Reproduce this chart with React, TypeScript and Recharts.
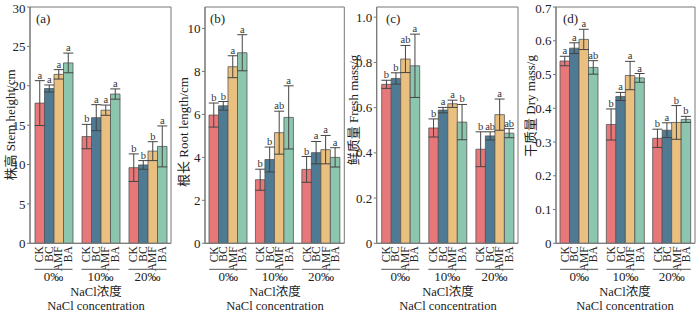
import React from "react";
import { BarChart, Bar, XAxis, YAxis, ErrorBar, LabelList, ReferenceArea } from "recharts";

const groups = ["0‰", "10‰", "20‰"];
const treatments = ["CK", "BC", "AMF", "BA"];
const colors = ["#E8777A", "#4E7A93", "#E9C07F", "#8DC6AE"];

// rows: CK, BC, AMF, BA ; columns: 0‰, 10‰, 20‰
const stemMean = [[17.8, 13.55, 9.6], [19.65, 15.95, 9.95], [21.45, 16.9, 11.7], [22.9, 18.95, 12.3]];
const stemErr = [[2.85, 1.55, 1.75], [0.45, 1.65, 0.55], [0.6, 0.65, 1.2], [1.25, 0.65, 2.6]];
const stemSig = [["a", "b", "b"], ["a", "a", "b"], ["a", "a", "b"], ["a", "a", "a"]];
const stemTicks = [0, 5, 10, 15, 20, 25, 30];

const rootMean = [[5.97, 2.96, 3.44], [6.4, 3.9, 4.22], [8.22, 5.15, 4.36], [8.87, 5.86, 4.0]];
const rootErr = [[0.56, 0.49, 0.6], [0.2, 0.58, 0.52], [0.51, 1.0, 0.66], [0.84, 1.47, 0.45]];
const rootSig = [["b", "b", "b"], ["b", "b", "a"], ["a", "ab", "a"], ["a", "a", "a"]];
const rootTicks = [0, 2, 4, 6, 8, 10];

const freshMean = [[0.703, 0.51, 0.416], [0.729, 0.589, 0.475], [0.815, 0.617, 0.569], [0.785, 0.536, 0.487]];
const freshErr = [[0.018, 0.04, 0.077], [0.025, 0.012, 0.018], [0.06, 0.016, 0.069], [0.14, 0.078, 0.02]];
const freshSig = [["b", "b", "b"], ["b", "a", "ab"], ["ab", "a", "a"], ["a", "b", "ab"]];
const freshTicks = [0, 0.2, 0.4, 0.6, 0.8, 1.0];

const dryMean = [[0.54, 0.352, 0.311], [0.578, 0.435, 0.335], [0.604, 0.497, 0.358], [0.521, 0.49, 0.367]];
const dryErr = [[0.014, 0.046, 0.027], [0.016, 0.012, 0.022], [0.03, 0.042, 0.05], [0.02, 0.013, 0.009]];
const drySig = [["a", "b", "b"], ["a", "a", "a"], ["a", "a", "b"], ["ab", "a", "b"]];
const dryTicks = [0, 0.1, 0.2, 0.3, 0.4, 0.5, 0.6, 0.7];

const FONT = "'Liberation Serif', 'DejaVu Serif', 'Noto Sans CJK SC', serif";
const BAR = 9.5;

const buildRows = (mean, err, sig) =>
  groups.map((g, gi) => {
    const row: any = { group: g };
    treatments.forEach((t, ti) => {
      row[t] = mean[ti][gi];
      row[t + "_err"] = err[ti][gi];
      row[t + "_sig"] = sig[ti][gi];
    });
    return row;
  });

const GroupTick = (props: any) => {
  const { x, y, payload } = props;
  return (
    <g>
      {treatments.map((t, i) => {
        const tx = x + (i - 1.5) * BAR;
        const ty = y + 3;
        return (
          <text
            key={t}
            x={tx}
            y={ty}
            transform={`rotate(-90, ${tx}, ${ty})`}
            textAnchor="end"
            dominantBaseline="central"
            fontSize={11.5}
            fontFamily={FONT}
            fill="#222"
          >
            {t}
          </text>
        );
      })}
      <line x1={x - 19} x2={x + 19} y1={y + 26} y2={y + 26} stroke="#555" strokeWidth={1} />
      <text x={x} y={y + 38} textAnchor="middle" fontSize={13} fontFamily={FONT} fill="#222">
        {payload.value}
      </text>
    </g>
  );
};

const sigLabel = (mean, err, ti) => (props: any) => {
  const { x, y, width, height, value, index } = props;
  const m = mean[ti][index];
  const top = y - (err[ti][index] * height) / m;
  return (
    <text x={x + width / 2} y={top - 2} textAnchor="middle" fontSize={10.5} fontFamily={FONT} fill="#333">
      {value}
    </text>
  );
};

const Panel = ({ p }) => {
  const rows = buildRows(p.mean, p.err, p.sig);
  const fmt = (v) => (v === 0 ? "0" : p.decimals ? v.toFixed(p.decimals) : String(v));
  return (
    <div style={{ position: "absolute", left: p.left, top: 0 }}>
      <BarChart
        width={p.width}
        height={311}
        data={rows}
        margin={{ top: 7, right: p.mr, left: 0, bottom: 0 }}
        barSize={BAR}
        barGap={0}
      >
        <XAxis
          dataKey="group"
          height={67.7}
          interval={0}
          tickLine={false}
          tickSize={0}
          tickMargin={0}
          axisLine={{ stroke: "#777" }}
          tick={<GroupTick />}
        />
        <YAxis
          width={p.yW}
          domain={p.domain}
          ticks={p.ticks}
          tickFormatter={fmt}
          allowDataOverflow
          tickSize={3}
          tickMargin={1.5}
          axisLine={{ stroke: "#777" }}
          tickLine={{ stroke: "#777" }}
          tick={{ fontSize: 13, fontFamily: FONT, fill: "#222" }}
        />
        {treatments.map((t, ti) => (
          <Bar
            key={t}
            dataKey={t}
            fill={colors[ti]}
            stroke="#555"
            strokeWidth={0.8}
            isAnimationActive={false}
          >
            <ErrorBar dataKey={t + "_err"} width={5} stroke="#444" strokeWidth={1} direction="y" />
            <LabelList dataKey={t + "_sig"} content={sigLabel(p.mean, p.err, ti)} />
          </Bar>
        ))}
        <ReferenceArea y1={p.domain[0]} y2={p.domain[1]} fill="none" stroke="#777" strokeWidth={1} ifOverflow="visible" />
        <text x={p.tagX} y={23} fontSize={13} fontFamily={FONT} fill="#222">
          {p.tag}
        </text>
        <text
          x={p.ylx}
          y={p.yly}
          transform={`rotate(-90, ${p.ylx}, ${p.yly})`}
          textAnchor="middle"
          dominantBaseline="central"
          fontSize={13}
          fontFamily={FONT}
          fill="#222"
        >
          {p.ylabel}
        </text>
        <text x={p.titleX} y={296} textAnchor="middle" fontSize={12.5} fontFamily={FONT} fill="#222">
          NaCl浓度
        </text>
        <text x={p.titleX} y={309.5} textAnchor="middle" fontSize={12.5} fontFamily={FONT} fill="#222">
          NaCl concentration
        </text>
      </BarChart>
    </div>
  );
};

const panels = [
  {
    left: 0, width: 175, yW: 30, mr: 4, domain: [0, 30], ticks: stemTicks, decimals: 0,
    tag: "(a)", tagX: 36, ylabel: "株高 Stem height/cm",
    ylx: 10, yly: 125, titleX: 96, mean: stemMean, err: stemErr, sig: stemSig,
  },
  {
    left: 175, width: 170, yW: 30, mr: 0.7, domain: [0, 11], ticks: rootTicks, decimals: 0,
    tag: "(b)", tagX: 35, ylabel: "根长 Root length/cm",
    ylx: 8, yly: 132, titleX: 100, mean: rootMean, err: rootErr, sig: rootSig,
  },
  {
    left: 345, width: 177, yW: 31.7, mr: 4, domain: [0, 1.045], ticks: freshTicks, decimals: 1,
    tag: "(c)", tagX: 41, ylabel: "鲜质量 Fresh mass/g",
    ylx: 8, yly: 110, titleX: 103, mean: freshMean, err: freshErr, sig: freshSig,
  },
  {
    left: 522, width: 178, yW: 34, mr: 5, domain: [0, 0.7], ticks: dryTicks, decimals: 1,
    tag: "(d)", tagX: 41, ylabel: "干质量 Dry mass/g",
    ylx: 8, yly: 106, titleX: 103, mean: dryMean, err: dryErr, sig: drySig,
  },
];

export default function App() {
  return (
    <div style={{ position: "absolute", left: 0, top: 0, width: 700, height: 311, background: "#fff" }}>
      {panels.map((p) => (
        <Panel key={p.tag} p={p} />
      ))}
    </div>
  );
}
